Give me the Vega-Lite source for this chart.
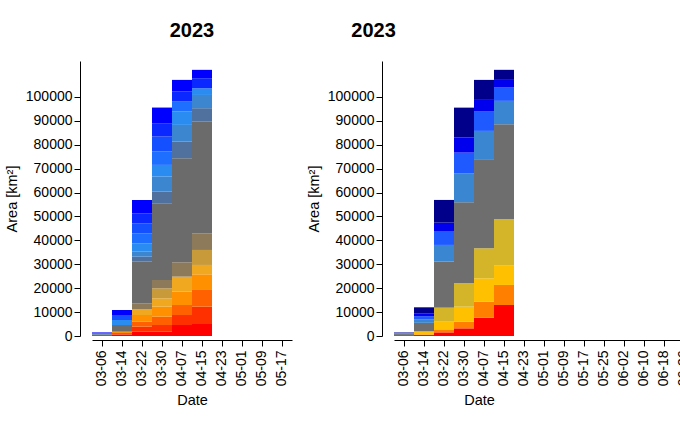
{
"$schema": "https://vega.github.io/schema/vega-lite/v6.json",
"padding": {"left": 4, "top": 21, "right": 0, "bottom": 0},
"spacing": 14,
"resolve": {"scale": {"color": "independent"}},
"config": {"font": "Liberation Sans", "view": {"stroke": null},
 "axis": {"labelFontSize": 14, "titleFontSize": 14.5, "labelColor": "#000", "titleColor": "#000", "domainColor": "#000", "tickColor": "#000", "grid": false, "titleFontWeight": "normal"},
 "title": {"fontSize": 20, "fontWeight": "bold", "color": "#000", "offset": 20}},
"datasets": {
"left": [
{"d":"03-06","c":"c08","v":700},{"d":"03-06","c":"c10","v":400},{"d":"03-06","c":"c15","v":400},
{"d":"03-14","c":"c01","v":610},{"d":"03-14","c":"c02","v":600},{"d":"03-14","c":"c04","v":600},{"d":"03-14","c":"c08","v":2790},{"d":"03-14","c":"c11","v":2090},{"d":"03-14","c":"c13","v":2090},{"d":"03-14","c":"c15","v":2090},
{"d":"03-22","c":"c01","v":1810},{"d":"03-22","c":"c02","v":2090},{"d":"03-22","c":"c03","v":2090},{"d":"03-22","c":"c04","v":2790},{"d":"03-22","c":"c05","v":2510},{"d":"03-22","c":"c07","v":2370},{"d":"03-22","c":"c08","v":17430},{"d":"03-22","c":"c09","v":2090},{"d":"03-22","c":"c10","v":2090},{"d":"03-22","c":"c11","v":3490},{"d":"03-22","c":"c12","v":4180},{"d":"03-22","c":"c13","v":4180},{"d":"03-22","c":"c14","v":4180},{"d":"03-22","c":"c15","v":5580},
{"d":"03-30","c":"c01","v":1810},{"d":"03-30","c":"c02","v":2790},{"d":"03-30","c":"c03","v":3490},{"d":"03-30","c":"c04","v":4180},{"d":"03-30","c":"c05","v":3490},{"d":"03-30","c":"c06","v":4180},{"d":"03-30","c":"c07","v":3490},{"d":"03-30","c":"c08","v":32080},{"d":"03-30","c":"c09","v":4880},{"d":"03-30","c":"c10","v":6280},{"d":"03-30","c":"c11","v":4880},{"d":"03-30","c":"c12","v":5580},{"d":"03-30","c":"c13","v":6270},{"d":"03-30","c":"c14","v":5580},{"d":"03-30","c":"c15","v":6550},
{"d":"04-07","c":"c01","v":4600},{"d":"04-07","c":"c02","v":4190},{"d":"04-07","c":"c03","v":4180},{"d":"04-07","c":"c04","v":5580},{"d":"04-07","c":"c05","v":6280},{"d":"04-07","c":"c07","v":6000},{"d":"04-07","c":"c08","v":43510},{"d":"04-07","c":"c09","v":7000},{"d":"04-07","c":"c10","v":6940},{"d":"04-07","c":"c11","v":5580},{"d":"04-07","c":"c12","v":4190},{"d":"04-07","c":"c14","v":4180},{"d":"04-07","c":"c15","v":4870},
{"d":"04-15","c":"c01","v":5020},{"d":"04-15","c":"c02","v":7250},{"d":"04-15","c":"c03","v":6980},{"d":"04-15","c":"c04","v":6550},{"d":"04-15","c":"c05","v":3910},{"d":"04-15","c":"c06","v":6270},{"d":"04-15","c":"c07","v":6980},{"d":"04-15","c":"c08","v":46720},{"d":"04-15","c":"c09","v":5580},{"d":"04-15","c":"c10","v":5540},{"d":"04-15","c":"c11","v":2800},{"d":"04-15","c":"c14","v":4200},{"d":"04-15","c":"c15","v":3500}
],
"right": [
{"d":"03-06","c":"r5","v":800},{"d":"03-06","c":"r6","v":300},{"d":"03-06","c":"r7","v":200},{"d":"03-06","c":"r9","v":200},
{"d":"03-14","c":"r1","v":400},{"d":"03-14","c":"r2","v":300},{"d":"03-14","c":"r3","v":1000},{"d":"03-14","c":"r4","v":300},{"d":"03-14","c":"r5","v":3500},{"d":"03-14","c":"r6","v":1500},{"d":"03-14","c":"r7","v":1300},{"d":"03-14","c":"r8","v":1200},{"d":"03-14","c":"r9","v":2500},
{"d":"03-22","c":"r1","v":1530},{"d":"03-22","c":"r2","v":980},{"d":"03-22","c":"r3","v":3490},{"d":"03-22","c":"r4","v":5850},{"d":"03-22","c":"r5","v":19250},{"d":"03-22","c":"r6","v":6980},{"d":"03-22","c":"r7","v":5570},{"d":"03-22","c":"r8","v":3770},{"d":"03-22","c":"r9","v":9480},
{"d":"03-30","c":"r1","v":3210},{"d":"03-30","c":"r2","v":2790},{"d":"03-30","c":"r3","v":6270},{"d":"03-30","c":"r4","v":9770},{"d":"03-30","c":"r5","v":33890},{"d":"03-30","c":"r6","v":12130},{"d":"03-30","c":"r7","v":8640},{"d":"03-30","c":"r8","v":6300},{"d":"03-30","c":"r9","v":12500},
{"d":"04-07","c":"r1","v":7670},{"d":"04-07","c":"r2","v":6700},{"d":"04-07","c":"r3","v":9760},{"d":"04-07","c":"r4","v":12550},{"d":"04-07","c":"r5","v":36960},{"d":"04-07","c":"r6","v":12130},{"d":"04-07","c":"r7","v":8090},{"d":"04-07","c":"r8","v":4880},{"d":"04-07","c":"r9","v":8360},
{"d":"04-15","c":"r1","v":12970},{"d":"04-15","c":"r2","v":8370},{"d":"04-15","c":"r3","v":8090},{"d":"04-15","c":"r4","v":19380},{"d":"04-15","c":"r5","v":39750},{"d":"04-15","c":"r6","v":9770},{"d":"04-15","c":"r7","v":5580},{"d":"04-15","c":"r8","v":3200},{"d":"04-15","c":"r9","v":4200}
]
},
"hconcat": [
{
 "title": "2023",
 "data": {"name": "left"},
 "width": 200, "height": 275,
 "mark": {"type": "bar", "width": {"band": 1}},
 "encoding": {
  "x": {"field": "d", "type": "ordinal", "title": "Date",
   "scale": {"domain": ["03-06","03-14","03-22","03-30","04-07","04-15","04-23","05-01","05-09","05-17"], "paddingInner": 0, "paddingOuter": 0},
   "axis": {"labelAngle": -90, "offset": 4, "tickSize": 6, "labelPadding": 4, "titlePadding": 8}},
  "y": {"field": "v", "type": "quantitative", "aggregate": "sum", "stack": "zero", "title": "Area [km²]",
   "scale": {"domain": [0, 115000], "nice": false},
   "axis": {"values": [0,10000,20000,30000,40000,50000,60000,70000,80000,90000,100000], "format": "d", "offset": 12, "tickSize": 6, "titlePadding": 6}},
  "color": {"field": "c", "type": "nominal", "legend": null,
   "scale": {"domain": ["c01","c02","c03","c04","c05","c06","c07","c08","c09","c10","c11","c12","c13","c14","c15"],
    "range": ["#FF0000","#FF3000","#FF6000","#FF9000","#F0A820","#C89A3A","#8C7A5A","#6B6B6B","#50719E","#3C86D0","#2A8CF0","#1E6EFF","#1450FF","#0A28FF","#0000FF"]}},
  "order": {"field": "c", "sort": "ascending"}
 }
},
{
 "data": {"name": "right"},
 "width": 300, "height": 275,
 "mark": {"type": "bar", "width": {"band": 1}},
 "encoding": {
  "x": {"field": "d", "type": "ordinal", "title": "Date",
   "scale": {"domain": ["03-06","03-14","03-22","03-30","04-07","04-15","04-23","05-01","05-09","05-17","05-25","06-02","06-10","06-18","06-26"], "paddingInner": 0, "paddingOuter": 0},
   "axis": {"labelAngle": -90, "offset": 4, "tickSize": 6, "labelPadding": 4, "titlePadding": 8, "titleX": 85}},
  "y": {"field": "v", "type": "quantitative", "aggregate": "sum", "stack": "zero", "title": "Area [km²]",
   "scale": {"domain": [0, 115000], "nice": false},
   "axis": {"values": [0,10000,20000,30000,40000,50000,60000,70000,80000,90000,100000], "format": "d", "offset": 12, "tickSize": 6, "titlePadding": 6}},
  "color": {"field": "c", "type": "nominal", "legend": null,
   "scale": {"domain": ["r1","r2","r3","r4","r5","r6","r7","r8","r9"],
    "range": ["#FF0000","#FF8000","#FFC000","#D4B52A","#6E6E6E","#3A86D0","#1E5AFF","#0000EE","#00008B"]}},
  "order": {"field": "c", "sort": "ascending"}
 },
 "title": {"text": "2023", "anchor": "start", "dx": 45}
}
]
}
